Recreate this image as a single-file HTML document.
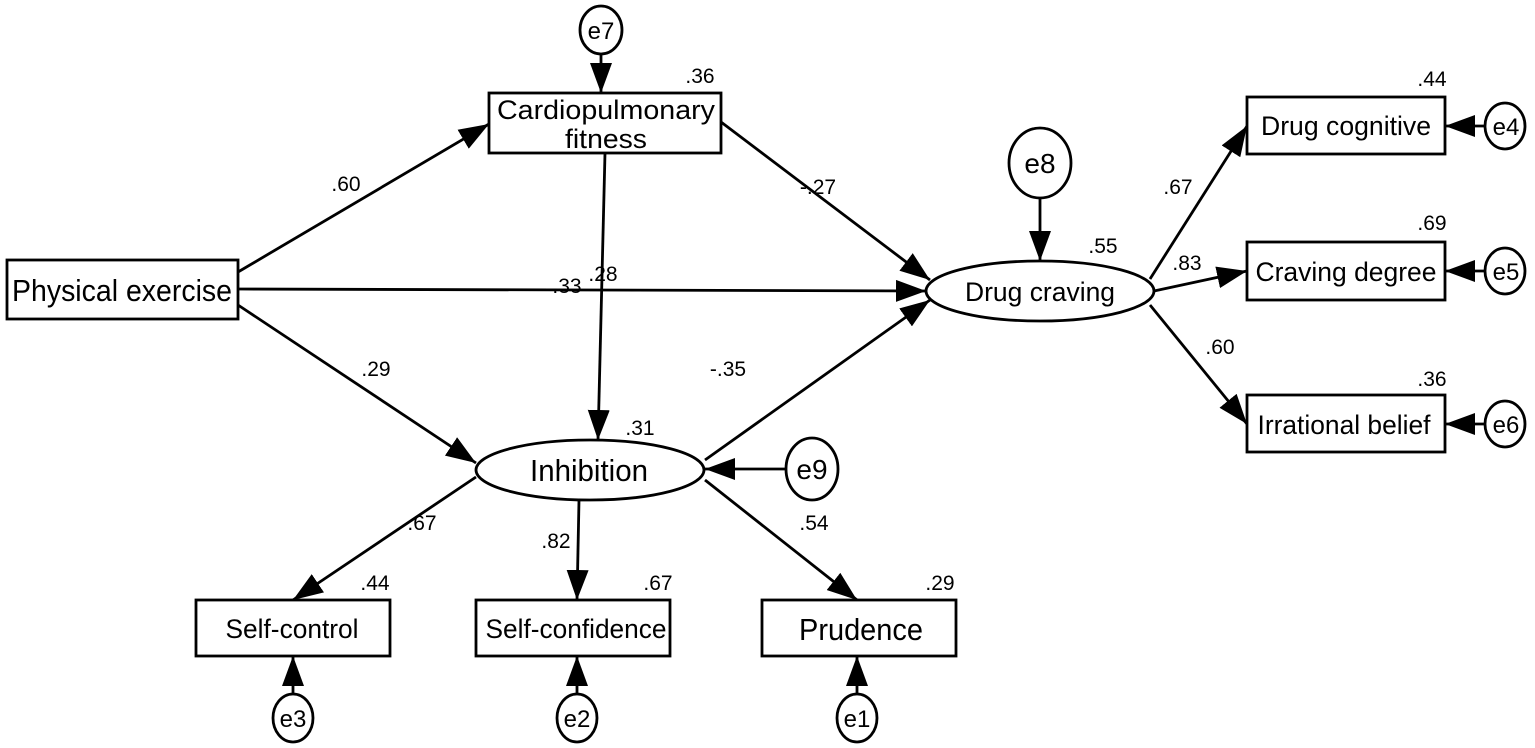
<!DOCTYPE html>
<html><head><meta charset="utf-8"><style>html,body{margin:0;padding:0;background:#fff}svg{display:block}</style></head>
<body>
<svg width="1535" height="748" viewBox="0 0 1535 748" xmlns="http://www.w3.org/2000/svg" font-family="Liberation Sans, Arial, sans-serif">
<defs>
<marker id="a" markerUnits="userSpaceOnUse" markerWidth="32" markerHeight="22" refX="30" refY="11" orient="auto">
<path d="M0,0 L30,11 L0,22 Z" fill="#000"/>
</marker>
</defs>
<g stroke="#000" stroke-width="2.8" fill="none">
<line x1="238" y1="272" x2="489" y2="124" marker-end="url(#a)"/>
<line x1="238" y1="289" x2="926" y2="291" marker-end="url(#a)"/>
<line x1="238" y1="305" x2="476" y2="463" marker-end="url(#a)"/>
<line x1="605" y1="153" x2="598" y2="440" marker-end="url(#a)"/>
<line x1="721" y1="122" x2="930" y2="280" marker-end="url(#a)"/>
<line x1="705" y1="460" x2="930" y2="300" marker-end="url(#a)"/>
<line x1="786" y1="469" x2="705" y2="469" marker-end="url(#a)"/>
<line x1="1040" y1="198" x2="1040" y2="261" marker-end="url(#a)"/>
<line x1="601" y1="54" x2="601" y2="93" marker-end="url(#a)"/>
<line x1="1150" y1="279" x2="1247" y2="126" marker-end="url(#a)"/>
<line x1="1154" y1="291" x2="1247" y2="271" marker-end="url(#a)"/>
<line x1="1150" y1="305" x2="1247" y2="424" marker-end="url(#a)"/>
<line x1="476" y1="477" x2="293" y2="600" marker-end="url(#a)"/>
<line x1="579" y1="500" x2="577" y2="600" marker-end="url(#a)"/>
<line x1="705" y1="480" x2="857" y2="600" marker-end="url(#a)"/>
<line x1="1485" y1="126" x2="1445" y2="126" marker-end="url(#a)"/>
<line x1="1485" y1="271" x2="1445" y2="271" marker-end="url(#a)"/>
<line x1="1485" y1="424" x2="1445" y2="424" marker-end="url(#a)"/>
<line x1="293" y1="694" x2="293" y2="656" marker-end="url(#a)"/>
<line x1="577" y1="694" x2="577" y2="656" marker-end="url(#a)"/>
<line x1="857" y1="694" x2="857" y2="656" marker-end="url(#a)"/>
</g>
<g stroke="#000" stroke-width="2.8" fill="#fff">
<rect x="7" y="260" width="231" height="59"/>
<rect x="489" y="93" width="232" height="60"/>
<rect x="1247" y="97" width="198" height="57"/>
<rect x="1247" y="242" width="198" height="58"/>
<rect x="1247" y="395" width="198" height="57"/>
<rect x="196" y="600" width="194" height="56"/>
<rect x="476" y="600" width="194" height="56"/>
<rect x="762" y="600" width="194" height="56"/>
<ellipse cx="1040" cy="291" rx="114" ry="30"/>
<ellipse cx="590" cy="470" rx="114" ry="30"/>
<ellipse cx="601" cy="30" rx="21" ry="24"/>
<ellipse cx="1040" cy="163" rx="31" ry="35"/>
<ellipse cx="812" cy="469" rx="26" ry="31"/>
<ellipse cx="1505" cy="126" rx="20" ry="23"/>
<ellipse cx="1505" cy="271" rx="20" ry="23"/>
<ellipse cx="1505" cy="424" rx="20" ry="23"/>
<ellipse cx="293" cy="718" rx="20" ry="24"/>
<ellipse cx="577" cy="718" rx="20" ry="24"/>
<ellipse cx="857" cy="718" rx="20" ry="24"/>
</g>
<g fill="#000" text-anchor="middle" font-size="27">
<text x="122" y="301" font-size="31" textLength="220" lengthAdjust="spacingAndGlyphs">Physical exercise</text>
<text x="606" y="119" textLength="218" lengthAdjust="spacingAndGlyphs">Cardiopulmonary</text>
<text x="606" y="148" textLength="82" lengthAdjust="spacingAndGlyphs">fitness</text>
<text x="1040" y="301" textLength="150" lengthAdjust="spacingAndGlyphs">Drug craving</text>
<text x="589" y="481" font-size="31" textLength="118" lengthAdjust="spacingAndGlyphs">Inhibition</text>
<text x="1346" y="135" textLength="170" lengthAdjust="spacingAndGlyphs">Drug cognitive</text>
<text x="1346" y="281" textLength="181" lengthAdjust="spacingAndGlyphs">Craving degree</text>
<text x="1344" y="434" textLength="173" lengthAdjust="spacingAndGlyphs">Irrational belief</text>
<text x="292" y="638" textLength="133" lengthAdjust="spacingAndGlyphs">Self-control</text>
<text x="576" y="638" textLength="181" lengthAdjust="spacingAndGlyphs">Self-confidence</text>
<text x="861" y="640" font-size="31" textLength="124" lengthAdjust="spacingAndGlyphs">Prudence</text>
<text x="601" y="39" font-size="24">e7</text>
<text x="1040" y="173" font-size="28">e8</text>
<text x="812" y="479" font-size="28">e9</text>
<text x="1506" y="135" font-size="24">e4</text>
<text x="1506" y="280" font-size="24">e5</text>
<text x="1506" y="433" font-size="24">e6</text>
<text x="293" y="727" font-size="24">e3</text>
<text x="577" y="727" font-size="24">e2</text>
<text x="857" y="727" font-size="24">e1</text>
</g>
<g fill="#000" text-anchor="middle" font-size="21">
<text x="700" y="83">.36</text>
<text x="346" y="191">.60</text>
<text x="567" y="293">.33</text>
<text x="603" y="281">.28</text>
<text x="376" y="376">.29</text>
<text x="818" y="194">-.27</text>
<text x="728" y="376">-.35</text>
<text x="640" y="435">.31</text>
<text x="1103" y="253">.55</text>
<text x="1178" y="194">.67</text>
<text x="1187" y="270">.83</text>
<text x="1220" y="354">.60</text>
<text x="1432" y="86">.44</text>
<text x="1432" y="230">.69</text>
<text x="1432" y="386">.36</text>
<text x="422" y="530">.67</text>
<text x="556" y="548">.82</text>
<text x="814" y="530">.54</text>
<text x="375" y="590">.44</text>
<text x="658" y="590">.67</text>
<text x="940" y="590">.29</text>
</g>
</svg>
</body></html>
